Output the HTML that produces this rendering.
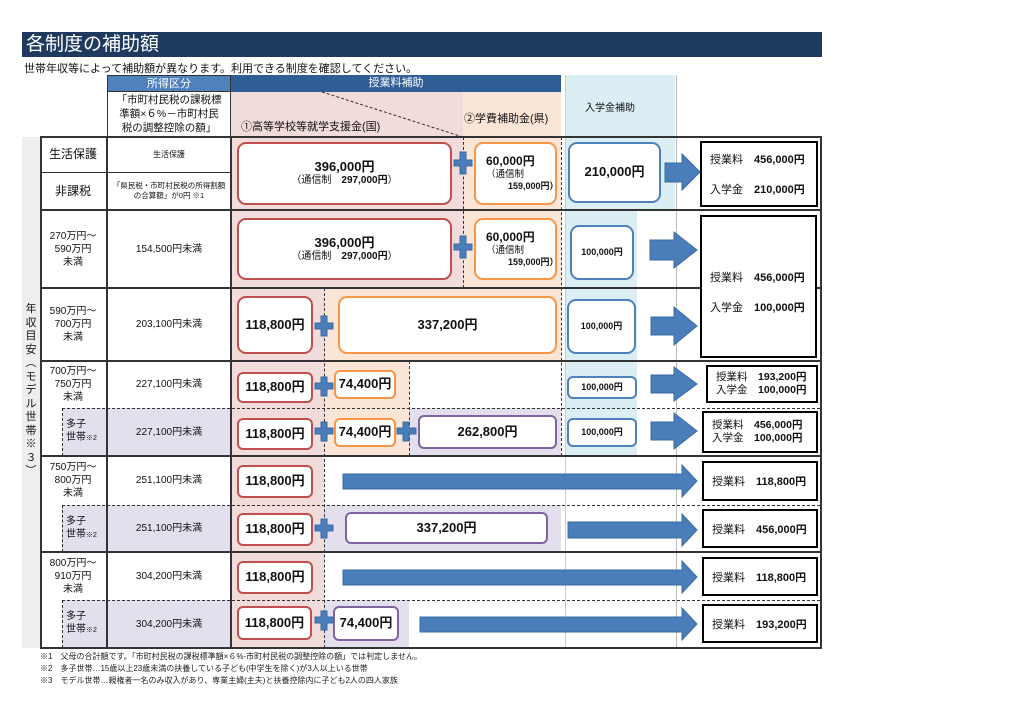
<!DOCTYPE html>
<html><head><meta charset="utf-8">
<style>
*{margin:0;padding:0;box-sizing:border-box}
body{width:1024px;height:724px;background:#fff;position:relative;overflow:hidden;font-family:"Liberation Sans","Noto Sans CJK JP",sans-serif;color:#111}
.a{position:absolute}
.bg{position:absolute}
.bx{position:absolute;background:#fff;border-radius:9px;display:flex;flex-direction:column;align-items:center;justify-content:center;font-weight:bold;font-size:13px;line-height:1.25}
.r{border:2px solid #c0504d}
.o{border:2px solid #f79646}
.b{border:2px solid #4f81bd}
.p{border:2px solid #8064a2}
.res{position:absolute;border:2px solid #000;background:#fff;font-size:11px;font-weight:bold;display:flex;flex-direction:column;justify-content:center;padding-left:8px}
.res i{font-style:normal;font-weight:normal}
.t{position:absolute;text-align:center;font-size:10px;line-height:13px;display:flex;align-items:center;justify-content:center}
.hl{position:absolute;height:2px;background:#333}
.dl{position:absolute;height:0;border-top:1px dashed #333}
.vl{position:absolute;width:0;border-left:1px dashed #333}
.sv{position:absolute;width:2px;background:#333}
</style></head><body>
<div class="a" style="left:22px;top:32px;width:800px;height:25px;background:#1f3a5f;color:#fff;font-size:19px;line-height:25px;padding-left:4px">各制度の補助額</div>
<div class="a" style="left:24px;top:60px;font-size:11px">世帯年収等によって補助額が異なります。利用できる制度を確認してください。</div>

<div class="bg" style="left:22px;top:137px;width:18px;height:511px;background:#eeeeee"></div>
<div class="bg" style="left:231px;top:92px;width:232px;height:196px;background:#f2dcdb"></div>
<div class="bg" style="left:463px;top:92px;width:98px;height:196px;background:#fbe5d6"></div>
<div class="bg" style="left:231px;top:288px;width:93px;height:360px;background:#f2dcdb"></div>
<div class="bg" style="left:324px;top:288px;width:237px;height:73px;background:#fbe5d6"></div>
<div class="bg" style="left:324px;top:361px;width:85px;height:95px;background:#fbe5d6"></div>
<div class="bg" style="left:409px;top:408px;width:152px;height:48px;background:#e4dfec"></div>
<div class="bg" style="left:324px;top:505px;width:237px;height:47px;background:#e4dfec"></div>
<div class="bg" style="left:324px;top:600px;width:85px;height:48px;background:#e4dfec"></div>
<div class="bg" style="left:62px;top:408px;width:169px;height:48px;background:#e4dfec"></div>
<div class="bg" style="left:62px;top:505px;width:169px;height:47px;background:#e4dfec"></div>
<div class="bg" style="left:62px;top:600px;width:169px;height:48px;background:#e4dfec"></div>
<div class="bg" style="left:565px;top:75px;width:110px;height:135px;background:#daeef3"></div>
<div class="bg" style="left:565px;top:210px;width:72px;height:246px;background:#daeef3"></div>
<div class="bg" style="left:40px;top:137px;width:22px;height:511px;background:#fff"></div>

<div class="a" style="left:107px;top:75px;width:124px;height:17px;background:#4f81bd;color:#fff;font-size:11px;text-align:center;line-height:17px;border:1px solid #333">所得区分</div>
<div class="a" style="left:231px;top:75px;width:330px;height:17px;background:#2f5d96;color:#fff;font-size:11px;text-align:center;line-height:17px">授業料補助</div>
<div class="a" style="left:107px;top:92px;width:124px;height:45px;border:1px solid #333;border-top:none;font-size:10.5px;line-height:14px;text-align:center;padding-top:1px">「市町村民税の課税標<br>準額×６%－市町村民<br>税の調整控除の額」</div>
<div class="a" style="left:241px;top:118px;font-size:11px">①高等学校等就学支援金(国)</div>
<div class="a" style="left:464px;top:110px;font-size:11px">②学費補助金(県)</div>
<div class="a" style="left:585px;top:99px;font-size:10px">入学金補助</div>
<svg class="a" style="left:0;top:0" width="1024" height="724"><line x1="322" y1="92" x2="463" y2="137" stroke="#333" stroke-dasharray="3,2"/></svg>

<div class="a" style="left:676px;top:75px;width:1px;height:573px;background:#bbb"></div>
<div class="a" style="left:565px;top:75px;width:1px;height:573px;background:#ccc"></div>
<div class="sv" style="left:40px;top:137px;height:512px"></div>
<div class="sv" style="left:106px;top:137px;height:512px"></div>
<div class="sv" style="left:230px;top:137px;height:512px"></div>
<div class="sv" style="left:820px;top:137px;height:512px"></div>
<div class="hl" style="left:40px;top:136px;width:782px"></div>
<div class="a" style="left:40px;top:172px;width:191px;height:1px;background:#333"></div>
<div class="hl" style="left:40px;top:209px;width:782px"></div>
<div class="hl" style="left:40px;top:287px;width:782px"></div>
<div class="hl" style="left:40px;top:360px;width:782px"></div>
<div class="hl" style="left:40px;top:455px;width:782px"></div>
<div class="hl" style="left:40px;top:551px;width:782px"></div>
<div class="hl" style="left:40px;top:647px;width:782px"></div>
<div class="dl" style="left:62px;top:408px;width:758px"></div>
<div class="dl" style="left:62px;top:505px;width:758px"></div>
<div class="dl" style="left:62px;top:600px;width:758px"></div>
<div class="vl" style="left:62px;top:408px;height:48px"></div>
<div class="vl" style="left:62px;top:505px;height:47px"></div>
<div class="vl" style="left:62px;top:600px;height:48px"></div>
<div class="vl" style="left:463px;top:137px;height:151px"></div>
<div class="vl" style="left:561px;top:137px;height:319px"></div>
<div class="vl" style="left:324px;top:288px;height:360px"></div>
<div class="vl" style="left:409px;top:361px;height:95px"></div>

<div class="a" style="left:24px;top:303px;width:14px;font-size:11px;line-height:13.5px;text-align:center">年<br>収<br>目<br>安<br>︵<br>モ<br>デ<br>ル<br>世<br>帯<br>※<br>３<br>︶</div>
<div class="t" style="left:40px;top:137px;width:66px;height:35px;font-size:12px">生活保護</div>
<div class="t" style="left:40px;top:172px;width:66px;height:38px;font-size:12px">非課税</div>
<div class="t" style="left:40px;top:210px;width:66px;height:78px">270万円～<br>590万円<br>未満</div>
<div class="t" style="left:40px;top:288px;width:66px;height:73px">590万円～<br>700万円<br>未満</div>
<div class="t" style="left:40px;top:361px;width:66px;height:47px">700万円～<br>750万円<br>未満</div>
<div class="t" style="left:40px;top:456px;width:66px;height:49px">750万円～<br>800万円<br>未満</div>
<div class="t" style="left:40px;top:552px;width:66px;height:48px">800万円～<br>910万円<br>未満</div>
<div class="a" style="left:66px;top:418px;font-size:10px;line-height:13px">多子<br>世帯<span style="font-size:7px">※2</span></div>
<div class="a" style="left:66px;top:515px;font-size:10px;line-height:13px">多子<br>世帯<span style="font-size:7px">※2</span></div>
<div class="a" style="left:66px;top:610px;font-size:10px;line-height:13px">多子<br>世帯<span style="font-size:7px">※2</span></div>

<div class="t" style="left:107px;top:137px;width:124px;height:35px;font-size:8px">生活保護</div>
<div class="t" style="left:107px;top:172px;width:124px;height:38px;font-size:7.5px;line-height:10px">「県民税・市町村民税の所得割額<br>の合算額」が0円 ※1</div>
<div class="t" style="left:107px;top:210px;width:124px;height:78px">154,500円未満</div>
<div class="t" style="left:107px;top:288px;width:124px;height:73px">203,100円未満</div>
<div class="t" style="left:107px;top:361px;width:124px;height:47px">227,100円未満</div>
<div class="t" style="left:107px;top:408px;width:124px;height:48px">227,100円未満</div>
<div class="t" style="left:107px;top:456px;width:124px;height:49px">251,100円未満</div>
<div class="t" style="left:107px;top:505px;width:124px;height:47px">251,100円未満</div>
<div class="t" style="left:107px;top:552px;width:124px;height:48px">304,200円未満</div>
<div class="t" style="left:107px;top:600px;width:124px;height:48px">304,200円未満</div>

<div class="bx r" style="left:237px;top:142px;width:215px;height:63px">396,000円<span style="font-weight:normal;font-size:10px">（通信制　<b>297,000円</b>）</span></div>
<div class="bx o" style="left:474px;top:142px;width:83px;height:63px;align-items:flex-start;padding-left:10px;font-size:12px">60,000円<span style="font-weight:normal;font-size:9.5px">（通信制</span><span style="font-size:9px;padding-left:22px">159,000円）</span></div>
<div class="bx b" style="left:568px;top:142px;width:93px;height:61px">210,000円</div>
<div class="bx r" style="left:237px;top:218px;width:215px;height:62px">396,000円<span style="font-weight:normal;font-size:10px">（通信制　<b>297,000円</b>）</span></div>
<div class="bx o" style="left:474px;top:218px;width:83px;height:62px;align-items:flex-start;padding-left:10px;font-size:12px">60,000円<span style="font-weight:normal;font-size:9.5px">（通信制</span><span style="font-size:9px;padding-left:22px">159,000円）</span></div>
<div class="bx b" style="left:570px;top:225px;width:64px;height:55px;font-size:9px">100,000円</div>

<div class="bx r" style="left:237px;top:296px;width:76px;height:58px">118,800円</div>
<div class="bx o" style="left:338px;top:296px;width:219px;height:58px">337,200円</div>
<div class="bx b" style="left:567px;top:299px;width:69px;height:55px;font-size:9px">100,000円</div>

<div class="bx r" style="left:237px;top:372px;width:76px;height:31px;border-radius:6px">118,800円</div>
<div class="bx o" style="left:334px;top:370px;width:62px;height:29px;border-radius:6px">74,400円</div>
<div class="bx b" style="left:567px;top:376px;width:70px;height:23px;border-radius:6px;font-size:9px">100,000円</div>

<div class="bx r" style="left:237px;top:418px;width:76px;height:32px;border-radius:6px">118,800円</div>
<div class="bx o" style="left:334px;top:418px;width:62px;height:29px;border-radius:6px">74,400円</div>
<div class="bx p" style="left:418px;top:415px;width:139px;height:34px;border-radius:6px">262,800円</div>
<div class="bx b" style="left:567px;top:418px;width:70px;height:29px;border-radius:6px;font-size:9px">100,000円</div>

<div class="bx r" style="left:237px;top:465px;width:76px;height:33px;border-radius:6px">118,800円</div>
<div class="bx r" style="left:237px;top:513px;width:76px;height:33px;border-radius:6px">118,800円</div>
<div class="bx p" style="left:345px;top:512px;width:203px;height:32px;border-radius:6px">337,200円</div>
<div class="bx r" style="left:237px;top:561px;width:76px;height:33px;border-radius:6px">118,800円</div>
<div class="bx r" style="left:237px;top:606px;width:75px;height:34px;border-radius:6px">118,800円</div>
<div class="bx p" style="left:333px;top:606px;width:66px;height:35px;border-radius:6px">74,400円</div>

<div class="res" style="left:700px;top:141px;width:118px;height:66px;gap:14px"><span><i>授業料</i>　456,000円</span><span><i>入学金</i>　210,000円</span></div>
<div class="res" style="left:700px;top:215px;width:117px;height:143px;gap:14px;padding-top:10px"><span><i>授業料</i>　456,000円</span><span><i>入学金</i>　100,000円</span></div>
<div class="res" style="left:706px;top:365px;width:112px;height:38px;font-size:10.5px;line-height:13px"><span><i>授業料</i>　193,200円</span><span><i>入学金</i>　100,000円</span></div>
<div class="res" style="left:702px;top:411px;width:116px;height:42px;font-size:10.5px;line-height:13px"><span><i>授業料</i>　456,000円</span><span><i>入学金</i>　100,000円</span></div>
<div class="res" style="left:702px;top:461px;width:116px;height:40px"><span><i>授業料</i>　118,800円</span></div>
<div class="res" style="left:702px;top:509px;width:116px;height:39px"><span><i>授業料</i>　456,000円</span></div>
<div class="res" style="left:702px;top:557px;width:116px;height:39px"><span><i>授業料</i>　118,800円</span></div>
<div class="res" style="left:702px;top:604px;width:116px;height:39px"><span><i>授業料</i>　193,200円</span></div>

<svg class="a" style="left:0;top:0" width="1024" height="724" fill="#4a7ebb" stroke="#3a6aa5" stroke-width="1">
<polygon points="665,163 682,163 682,154 700,172 682,190 682,182 665,182"/>
<polygon points="650,240 674,240 674,232 697,250 674,268 674,260 650,260"/>
<polygon points="651,317 674,317 674,307 697,326 674,345 674,335 651,335"/>
<polygon points="651,375 674,375 674,367 697,384 674,401 674,393 651,393"/>
<polygon points="651,422 674,422 674,413 697,431 674,449 674,440 651,440"/>
<polygon points="343,474 682,474 682,465 697,481 682,497 682,489 343,489"/>
<polygon points="568,522 682,522 682,514 697,530 682,546 682,538 568,538"/>
<polygon points="343,570 682,570 682,561 697,577 682,593 682,585 343,585"/>
<polygon points="420,617 682,617 682,608 697,624 682,640 682,632 420,632"/>
<g>
<path d="M460 152h6v8h6v6h-6v8h-6v-8h-6v-6h6z"/>
<path d="M460 236h6v8h6v6h-6v8h-6v-8h-6v-6h6z"/>
<path d="M321 316h6v7h6v6h-6v7h-6v-7h-6v-6h6z"/>
<path d="M321 377h6v6h6v6h-6v7h-6v-7h-6v-6h6z"/>
<path d="M321 422h6v6h6v6h-6v7h-6v-7h-6v-6h6z"/>
<path d="M403 422h6v6h7v6h-7v7h-6v-7h-6v-6h6z"/>
<path d="M321 519h6v6h6v6h-6v7h-6v-7h-6v-6h6z"/>
<path d="M321 611h6v6h6v6h-6v7h-6v-7h-6v-6h6z"/>
</g>
</svg>

<div class="a" style="left:40px;top:651px;font-size:8px;line-height:12px;color:#222">※1　父母の合計額です。「市町村民税の課税標準額×６%-市町村民税の調整控除の額」では判定しません。<br>※2　多子世帯…15歳以上23歳未満の扶養している子ども(中学生を除く)が3人以上いる世帯<br>※3　モデル世帯…親権者一名のみ収入があり、専業主婦(主夫)と扶養控除内に子ども2人の四人家族</div>
</body></html>
